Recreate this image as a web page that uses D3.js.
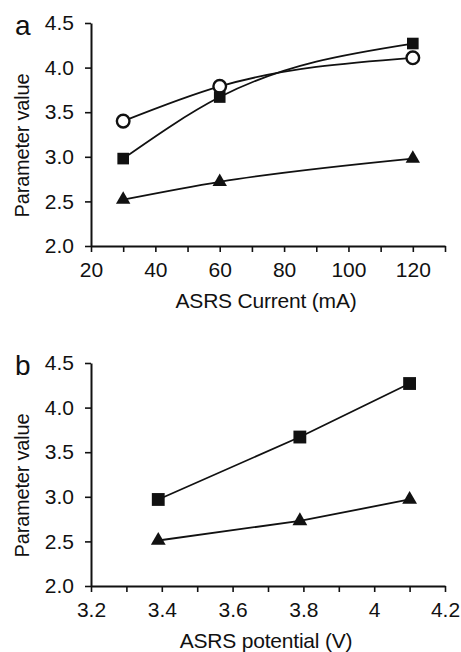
<!DOCTYPE html>
<html>
<head>
<meta charset="utf-8">
<script src="https://cdn.jsdelivr.net/npm/d3@7"></script>
<style>
  html, body { margin: 0; padding: 0; background: #fff; }
  text { font-family: "Liberation Sans", Arial, sans-serif; fill: #111; }
</style>
</head>
<body>
<svg id="chart" width="461" height="652"></svg>
<script>
// ---- Data ----
const currentX   = [30, 60, 120];
const circleA    = [3.40, 3.79, 4.11];
const squareA    = [2.98, 3.67, 4.27];
const triangleA  = [2.52, 2.72, 2.98];

const potentialX = [3.39, 3.79, 4.10];
const squareB    = [2.97, 3.67, 4.27];
const triangleB  = [2.51, 2.73, 2.97];

const yTicks      = [2.0, 2.5, 3.0, 3.5, 4.0, 4.5];
const xTicksA     = [20, 30, 40, 50, 60, 70, 80, 90, 100, 110, 120, 130];
const xLabelsA    = [20, 40, 60, 80, 100, 120];
const xTicksB     = [3.2, 3.3, 3.4, 3.5, 3.6, 3.7, 3.8, 3.9, 4.0, 4.1, 4.2];
const xLabelsB    = ["3.2", "3.4", "3.6", "3.8", "4", "4.2"];

const svg = d3.select("#chart");

function panel(opts) {
  const g = svg.append("g");
  const x = d3.scaleLinear().domain(opts.xDomain).range([91, 445]);
  const y = d3.scaleLinear().domain([2, 4.5]).range([opts.yBottom, opts.yTop]);

  const ya = g.append("g").attr("transform", "translate(91,0)")
    .call(d3.axisLeft(y).tickValues(yTicks).tickFormat(d3.format(".1f"))
      .tickSize(6).tickSizeOuter(0).tickPadding(11));
  const xa = g.append("g").attr("transform", `translate(0,${opts.yBottom})`)
    .call(d3.axisBottom(x).tickValues(opts.xTicks).tickFormat(opts.xFormat)
      .tickSize(6).tickSizeOuter(0).tickPadding(10));
  [ya, xa].forEach(a => {
    a.select(".domain").attr("stroke", "#111").attr("stroke-width", 2);
    a.selectAll(".tick line").attr("stroke", "#111").attr("stroke-width", 1.6);
    a.selectAll(".tick text").attr("font-size", 21).attr("font-family", "Liberation Sans, Arial, sans-serif").attr("fill", "#111");
  });

  const line = d3.line().x(d => x(d[0])).y(d => y(d[1])).curve(opts.curve);
  opts.series.forEach(s => {
    const pts = opts.xs.map((v, i) => [v, s.values[i]]);
    g.append("path").datum(pts).attr("d", line)
      .attr("fill", "none").attr("stroke", "#111").attr("stroke-width", 1.8);
    const sym = d3.symbol().type(s.type).size(s.size);
    g.selectAll(null).data(pts).enter().append("path")
      .attr("d", sym)
      .attr("transform", d => `translate(${x(d[0])},${y(d[1])})`)
      .attr("fill", s.fill).attr("stroke", "#111").attr("stroke-width", s.strokeWidth);
  });

  g.append("text").attr("x", 15).attr("y", opts.yTop + 12)
    .attr("font-size", 28).text(opts.letter);
  g.append("text")
    .attr("transform", `translate(29,${(opts.yTop + opts.yBottom) / 2 + 11}) rotate(-90)`)
    .attr("text-anchor", "middle").attr("font-size", 20)
    .attr("letter-spacing", -0.2)
    .text("Parameter value");
  g.append("text").attr("x", 266).attr("y", opts.yBottom + 62)
    .attr("text-anchor", "middle").attr("font-size", 21)
    .attr("letter-spacing", -0.2)
    .text(opts.xTitle);
}

panel({
  xDomain: [20, 130], yTop: 23, yBottom: 246,
  xTicks: xTicksA, xFormat: d => xLabelsA.includes(d) ? String(d) : "",
  xs: currentX, curve: d3.curveMonotoneX, letter: "a",
  xTitle: "ASRS Current (mA)",
  series: [
    { values: circleA,   type: d3.symbolCircle,   size: 125, fill: "#fff", strokeWidth: 2.4 },
    { values: squareA,   type: d3.symbolSquare,   size: 135, fill: "#111", strokeWidth: 0 },
    { values: triangleA, type: d3.symbolTriangle, size: 90,  fill: "#111", strokeWidth: 0 }
  ]
});

panel({
  xDomain: [3.2, 4.2], yTop: 363, yBottom: 586,
  xTicks: xTicksB,
  xFormat: d => { const s = d3.format("~g")(+d.toFixed(1)); return xLabelsB.includes(s) ? s : ""; },
  xs: potentialX, curve: d3.curveLinear, letter: "b",
  xTitle: "ASRS potential (V)",
  series: [
    { values: squareB,   type: d3.symbolSquare,   size: 165, fill: "#111", strokeWidth: 0 },
    { values: triangleB, type: d3.symbolTriangle, size: 95,  fill: "#111", strokeWidth: 0 }
  ]
});
</script>
</body>
</html>
